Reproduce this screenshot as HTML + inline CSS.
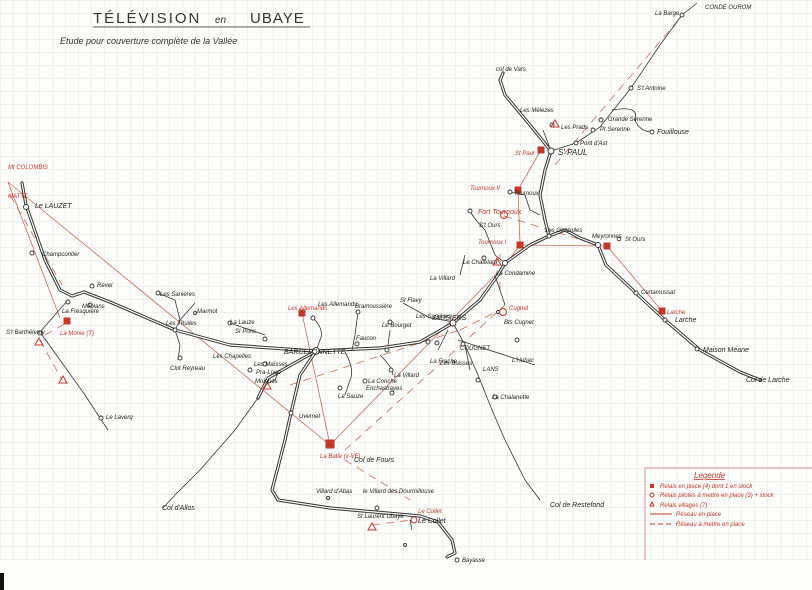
<!DOCTYPE html>
<html><head><meta charset="utf-8"><style>
html,body{margin:0;padding:0;background:#fdfdfb;}
svg{display:block}
text{font-family:"Liberation Sans",sans-serif;font-style:italic;}
.k{fill:#222;font-size:6px}
.r{fill:#c0392b;font-size:6px}
</style></head><body>
<svg width="812" height="590" viewBox="0 0 812 590" xmlns="http://www.w3.org/2000/svg">
<defs>
<pattern id="g" width="13" height="13" patternUnits="userSpaceOnUse">
<path d="M13 0H0V13" fill="none" stroke="#d6d8d8" stroke-width="0.7"/>
</pattern>
</defs>
<rect width="812" height="560" fill="url(#g)"/>
<rect x="0" y="573" width="4" height="17" fill="#111"/>

<!-- title -->
<text x="93" y="23" style="font-size:15px;font-style:normal;letter-spacing:2px" fill="#333">TÉLÉVISION</text>
<text x="215" y="23" style="font-size:10px" fill="#333">en</text>
<text x="250" y="23" style="font-size:15px;font-style:normal;letter-spacing:1px" fill="#333">UBAYE</text>
<line x1="93" y1="27" x2="310" y2="27" stroke="#333" stroke-width="0.8"/>
<text x="60" y="44" style="font-size:9px" fill="#333">Etude pour couverture complète de la Vallée</text>

<!-- red straight lines -->
<g stroke="#c86a5a" stroke-width="0.8" fill="none">
<line x1="8" y1="182" x2="330" y2="445"/>
<line x1="8" y1="182" x2="60" y2="318"/>
<line x1="302" y1="313" x2="330" y2="445"/>
<line x1="330" y1="445" x2="505" y2="265"/>
<line x1="505" y1="265" x2="520" y2="245"/>
<line x1="520" y1="245" x2="518" y2="190"/>
<line x1="518" y1="190" x2="541" y2="150"/>
<line x1="520" y1="245" x2="607" y2="246"/>
<line x1="607" y1="246" x2="662" y2="311"/>
</g>
<g stroke="#c86a5a" stroke-width="0.8" fill="none" stroke-dasharray="8,6">
<line x1="10" y1="195" x2="62" y2="285"/>
<line x1="40" y1="340" x2="62" y2="380"/>
<line x1="45" y1="335" x2="68" y2="322"/>
<line x1="290" y1="385" x2="460" y2="330"/>
<line x1="345" y1="450" x2="505" y2="305"/>
<line x1="460" y1="330" x2="500" y2="310"/>
<line x1="500" y1="290" x2="500" y2="250"/>
<line x1="504" y1="216" x2="598" y2="245"/>
<line x1="345" y1="460" x2="410" y2="500"/>
<line x1="372" y1="525" x2="412" y2="520"/>
<line x1="555" y1="165" x2="680" y2="18"/>
</g>

<!-- double roads -->
<g fill="none" stroke-linejoin="round" stroke-linecap="round">
<g stroke="#333" stroke-width="3.2">
<path id="r1" d="M22 183 L26 205 L45 260 L60 290 L72 296 L84 292 L110 302 L175 330 L230 345 L300 350 L316 351 L380 348 L420 342 L453 323 L480 300 L498 275 L505 263 L530 245 L549 236 L565 230 L580 238 L598 245 L606 265 L636 293 L665 320 L700 350 L740 372 L760 380"/>
<path d="M549 236 L545 220 L540 195 L545 170 L551 151 L530 125 L505 95 L500 80 L503 73"/>
<path d="M316 351 L300 375 L291 413 L285 440 L272 490 L278 500 L330 508 L375 512 L420 516 L438 522 L452 540 L455 553 L447 557"/>
<path d="M316 351 L268 378 L258 398"/>
</g>
<g stroke="#fdfdfb" stroke-width="1.2">
<path d="M22 183 L26 205 L45 260 L60 290 L72 296 L84 292 L110 302 L175 330 L230 345 L300 350 L316 351 L380 348 L420 342 L453 323 L480 300 L498 275 L505 263 L530 245 L549 236 L565 230 L580 238 L598 245 L606 265 L636 293 L665 320 L700 350 L740 372 L760 380"/>
<path d="M549 236 L545 220 L540 195 L545 170 L551 151 L530 125 L505 95 L500 80 L503 73"/>
<path d="M316 351 L300 375 L291 413 L285 440 L272 490 L278 500 L330 508 L375 512 L420 516 L438 522 L452 540 L455 553 L447 557"/>
<path d="M316 351 L268 378 L258 398"/>
</g>
</g>

<!-- single roads -->
<g fill="none" stroke="#333" stroke-width="0.8">
<path d="M551 151 L576 143 L600 127 L631 88 L660 45 L682 15 L697 3"/>
<path d="M612 110 Q640 105 635 120 Q640 132 652 132"/>
<path d="M258 398 L235 430 L200 470 L175 495 L163 508"/>
<path d="M453 323 L465 345 L478 375 L492 410 L505 440 L525 480 L540 500"/>
<path d="M458 340 L535 365"/>
<path d="M465 345 L470 370"/>
<path d="M68 300 L40 332 L60 360 L85 395 L100 418 L108 430"/>
<path d="M158 293 L175 300 L180 320 L175 330"/>
<path d="M175 330 L180 345 L178 360"/>
<path d="M195 303 L180 320"/>
<path d="M230 323 L265 335"/>
<path d="M313 318 Q325 330 320 340 L316 351"/>
<path d="M358 312 L355 335 L352 350"/>
<path d="M345 352 Q355 370 350 380 L345 395"/>
<path d="M390 330 L388 345"/>
<path d="M403 303 L430 318 L455 322"/>
<path d="M380 355 Q395 370 392 375"/>
<path d="M438 350 L448 330"/>
<path d="M265 385 L275 380 L278 372"/>
<path d="M470 211 Q475 220 485 230 L495 255 L505 263"/>
<path d="M465 255 L460 275"/>
<path d="M510 192 L525 195 L530 210 L540 215"/>
<path d="M495 276 L500 290 L505 305"/>
<path d="M543 130 L551 151"/>
<path d="M410 520 L412 530"/>
</g>

<!-- nodes -->
<g fill="#fdfdfb" stroke="#333" stroke-width="0.9">
<circle cx="682" cy="15" r="2"/><circle cx="631" cy="88" r="2"/><circle cx="601" cy="120" r="2"/>
<circle cx="593" cy="130" r="2"/><circle cx="576" cy="143" r="2"/><circle cx="652" cy="132" r="2"/>
<circle cx="551" cy="151" r="3"/><circle cx="552" cy="125" r="2"/><circle cx="510" cy="192" r="2"/>
<circle cx="549" cy="236" r="2"/><circle cx="598" cy="245" r="2.5"/><circle cx="619" cy="239" r="1.8"/>
<circle cx="470" cy="211" r="2"/><circle cx="505" cy="263" r="2.5"/><circle cx="484" cy="258" r="2"/>
<circle cx="636" cy="293" r="2"/><circle cx="665" cy="320" r="2"/><circle cx="697" cy="349" r="2"/>
<circle cx="453" cy="323" r="3"/><circle cx="316" cy="351" r="3.5"/><circle cx="463" cy="344" r="2"/>
<circle cx="26" cy="207" r="2.5"/><circle cx="32" cy="253" r="2"/><circle cx="68" cy="302" r="2"/>
<circle cx="92" cy="286" r="2"/><circle cx="90" cy="305" r="2"/><circle cx="40" cy="333" r="2"/>
<circle cx="158" cy="293" r="2"/><circle cx="195" cy="313" r="1.5"/><circle cx="175" cy="330" r="2"/>
<circle cx="180" cy="358" r="2"/><circle cx="230" cy="323" r="2"/><circle cx="265" cy="339" r="2"/>
<circle cx="313" cy="318" r="2"/><circle cx="357" cy="344" r="2"/><circle cx="390" cy="322" r="2"/>
<circle cx="358" cy="312" r="2"/><circle cx="387" cy="350" r="2"/><circle cx="428" cy="342" r="2"/>
<circle cx="291" cy="413" r="2"/><circle cx="250" cy="370" r="2"/><circle cx="265" cy="364" r="2"/>
<circle cx="340" cy="388" r="2"/><circle cx="365" cy="381" r="2"/><circle cx="392" cy="393" r="2"/>
<circle cx="391" cy="370" r="2"/><circle cx="101" cy="418" r="2"/><circle cx="478" cy="380" r="2"/>
<circle cx="495" cy="397" r="2"/><circle cx="517" cy="340" r="2"/><circle cx="457" cy="560" r="2"/>
<circle cx="405" cy="545" r="1.5"/><circle cx="328" cy="498" r="1.5"/><circle cx="377" cy="508" r="2"/>
<circle cx="437" cy="343" r="2"/><circle cx="498" cy="312" r="1.5"/>
</g>

<!-- red symbols -->
<g fill="#c0392b" stroke="#c0392b">
<rect x="538" y="147" width="6" height="6"/><rect x="515" y="187" width="6" height="6"/>
<rect x="517" y="242" width="6" height="6"/><rect x="604" y="243" width="6" height="6"/>
<rect x="659" y="308" width="6" height="6"/><rect x="299" y="310" width="6" height="6"/>
<rect x="64" y="318" width="6" height="6"/><rect x="326" y="440" width="8" height="8"/>
</g>
<g fill="none" stroke="#c0392b" stroke-width="1">
<circle cx="504" cy="215" r="3.5"/><circle cx="503" cy="312" r="3.5"/><circle cx="414" cy="520" r="3"/>
<path d="M35 345 L39 338 L43 345Z"/><path d="M59 383 L63 376 L67 383Z"/>
<path d="M263 389 L267 382 L271 389Z"/><path d="M493 265 L497 258 L501 265Z"/>
<path d="M368 530 L372 523 L376 530Z"/><path d="M551 127 L555 120 L559 127Z"/>
</g>

<!-- labels -->
<g class="k">
<text x="655" y="15">La Barge</text><text x="705" y="9">CONDE OUROM</text>
<text x="637" y="90">S't Antoine</text><text x="608" y="121">Grande Serenne</text>
<text x="600" y="131">Pt Serenne</text><text x="580" y="145">Pont d'Ast</text>
<text x="657" y="134" style="font-size:7px">Fouillouse</text>
<text x="558" y="155" style="font-size:8px">S' PAUL</text>
<text x="496" y="71">col de Vars</text><text x="520" y="112">Les Mélezes</text>
<text x="561" y="129">Les Prads</text><text x="514" y="195">Tournoux</text>
<text x="479" y="227">S't Ours</text><text x="545" y="232">Les Gleizolles</text>
<text x="592" y="238">Meyronnes</text><text x="625" y="241">St Ours</text>
<text x="463" y="264">Le Chatelard</text><text x="430" y="280">La Villard</text>
<text x="496" y="275">La Condamine</text><text x="641" y="294">Certamussat</text>
<text x="675" y="322" style="font-size:7px">Larche</text>
<text x="703" y="352" style="font-size:7px">Maison Méane</text>
<text x="746" y="382" style="font-size:7px">Col de Larche</text>
<text x="504" y="324">Bts Cugnet</text>
<text x="432" y="320" style="font-size:7px">JAUSIERS</text>
<text x="460" y="350">COUGNET</text><text x="440" y="365">Les Buisses</text>
<text x="512" y="362">L'Hubac</text><text x="483" y="371">LANS</text>
<text x="492" y="399">La Chalanette</text>
<text x="400" y="302">St Flavy</text><text x="416" y="318">Les Sanières</text>
<text x="382" y="327">Le Bourget</text><text x="355" y="308">Bramoussière</text>
<text x="356" y="340">Faucon</text><text x="430" y="363">La Frache</text>
<text x="394" y="377">La Villard</text><text x="366" y="390">Enchastrayes</text>
<text x="368" y="383">La Conche</text><text x="338" y="398">La Sauze</text>
<text x="284" y="354" style="font-size:7px">BARCELONNETTE</text>
<text x="318" y="306">Les Allemands</text>
<text x="299" y="418">Uvernet</text><text x="254" y="366">Les Maïsses</text>
<text x="256" y="374">Pra-Loup</text><text x="255" y="383">Molanès</text>
<text x="230" y="324">La Lauze</text><text x="235" y="333">St Pons</text>
<text x="213" y="358">Les Chapelles</text><text x="170" y="370">Clot Reyreau</text>
<text x="166" y="325">Les Thuiles</text><text x="197" y="313">Marmot</text>
<text x="160" y="296">Les Sanières</text>
<text x="97" y="287">Revel</text><text x="82" y="308">Méolans</text>
<text x="62" y="313">La Fresquière</text>
<text x="6" y="334">S't Barthélemy</text><text x="42" y="256">Champcontier</text>
<text x="35" y="208" style="font-size:7px">Le LAUZET</text>
<text x="106" y="419">Le Laverq</text>
<text x="354" y="462" style="font-size:7px">Col de Fours</text>
<text x="316" y="493">Villard d'Abas</text><text x="363" y="493">le Villard des Dourmillouse</text>
<text x="418" y="523" style="font-size:7px">Le Collet</text>
<text x="357" y="518">St Laurent Ubaye</text>
<text x="462" y="562">Bayasse</text>
<text x="162" y="510" style="font-size:7px">Col d'Allos</text>
<text x="550" y="507" style="font-size:7px">Col de Restefond</text>
</g>
<g class="r">
<text x="8" y="169">Mt COLOMBIS</text><text x="8" y="198">MATTE</text>
<text x="60" y="335">La Monie (T)</text><text x="288" y="310">Les Allemands</text>
<text x="320" y="458">La Batie (x-VF)</text><text x="515" y="155">St Paul</text>
<text x="470" y="190">Tournoux II</text><text x="478" y="214" style="font-size:7px">Fort Tournoux</text>
<text x="478" y="244">Tournoux I</text><text x="667" y="314">Larche</text>
<text x="509" y="310">Cugnet</text><text x="418" y="513">Le Collet</text>
</g>

<!-- legend -->
<g>
<path d="M645 560 V468 H812" fill="none" stroke="#d59090" stroke-width="1"/>
<text x="694" y="478" class="r" style="font-size:8px;text-decoration:underline">Legende</text>
<rect x="650" y="484" width="4" height="4" fill="#c0392b"/>
<text x="660" y="488" class="r">Relais en place (4) dont 1 en stock</text>
<circle cx="652" cy="495" r="2" fill="none" stroke="#c0392b"/>
<text x="660" y="497" class="r">Relais pilotes à mettre en place (3) + stock</text>
<path d="M650 506 L652 502 L654 506Z" fill="none" stroke="#c0392b"/>
<text x="660" y="507" class="r">Relais villages (7)</text>
<line x1="650" y1="514" x2="672" y2="514" stroke="#c0392b"/>
<text x="676" y="516" class="r">Réseau en place</text>
<line x1="650" y1="524" x2="672" y2="524" stroke="#c0392b" stroke-dasharray="5,3"/>
<text x="676" y="526" class="r">Réseau à mettre en place</text>
</g>
</svg>
</body></html>
